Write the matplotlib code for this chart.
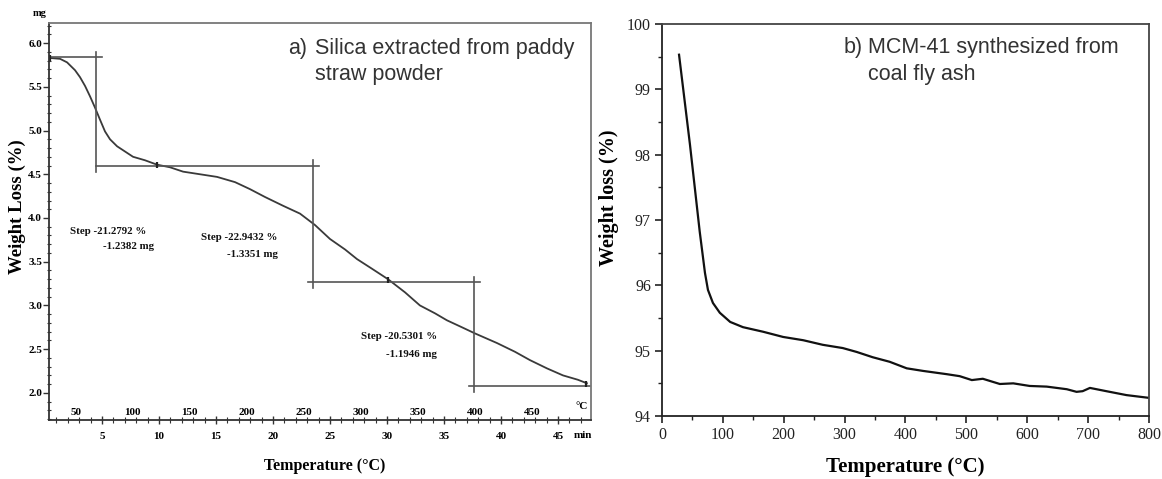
import matplotlib
matplotlib.use("Agg")
import matplotlib.pyplot as plt
from matplotlib.ticker import MultipleLocator, FixedLocator, FormatStrFormatter
import numpy as np

# ---------------- data: panel a (time in min, mass in mg) ----------------
time_a = [0.44, 1.32, 1.93, 2.63, 3.07, 3.51, 3.95, 4.39, 4.82, 5.26, 5.70, 6.32, 7.02,
          7.72, 8.77, 9.82, 10.96, 12.11, 13.60, 15.09, 16.67, 17.98, 19.30, 20.88,
          22.37, 23.68, 25.0, 26.32, 27.37, 28.68, 30.09, 31.58, 32.89, 34.21, 35.26,
          36.58, 37.72, 39.65, 41.23, 42.54, 44.04, 45.44, 46.75, 47.54]
mass_a = [5.83, 5.82, 5.78, 5.69, 5.61, 5.51, 5.39, 5.26, 5.125, 4.99, 4.90, 4.82, 4.76,
          4.70, 4.66, 4.61, 4.58, 4.53, 4.50, 4.47, 4.41, 4.33, 4.24, 4.14,
          4.05, 3.92, 3.76, 3.64, 3.53, 3.42, 3.30, 3.15, 3.00, 2.91, 2.83,
          2.75, 2.68, 2.57, 2.47, 2.375, 2.28, 2.20, 2.15, 2.11]
# step-evaluation construction lines (min, mg)
step_levels = [5.84, 4.60, 3.27, 2.08]
step_times = [4.5, 23.5, 37.6]
step_marks_t = [0.44, 9.8, 30.1, 47.5]
step_marks_m = [5.83, 4.61, 3.29, 2.10]
step_pct = ["Step -21.2792 %", "Step -22.9432 %", "Step -20.5301 %"]
step_mg = ["-1.2382 mg", "-1.3351 mg", "-1.1946 mg"]
temp_ticks_a = [50, 100, 150, 200, 250, 300, 350, 400, 450]

# ---------------- data: panel b (temperature, weight %) ----------------
temp_b = [28, 46, 62, 70.6, 75.5, 83.7, 95, 112, 133, 166, 199, 232, 264, 297, 320,
          346, 374, 402, 429, 468, 489, 509, 527, 555, 577, 604, 632, 665, 681,
          691, 703, 730, 763, 798]
wt_b = [99.53, 98.15, 96.82, 96.19, 95.93, 95.73, 95.58, 95.44, 95.36, 95.29,
        95.21, 95.16, 95.09, 95.04, 94.98, 94.90, 94.83, 94.73, 94.69, 94.64, 94.61,
        94.55, 94.57, 94.49, 94.50, 94.46, 94.45, 94.41, 94.37, 94.38, 94.43, 94.38,
        94.32, 94.28]

serif = "Liberation Serif"
sans = "Liberation Sans"

fig = plt.figure(figsize=(11.62, 4.79), dpi=100)

# ======================= panel a =======================
axa = fig.add_axes([0.0422, 0.1232, 0.4664, 0.8288])
axa.plot(time_a, mass_a, color="#3a3a3a", lw=1.3)
axa.set_xlim(0.35, 47.9)
axa.set_ylim(1.69, 6.23)

gray = "#555555"
axa.plot([0.35, 5.0], [step_levels[0]] * 2, color=gray, lw=1.2)
axa.plot([step_times[0]] * 2, [5.90, 4.53], color=gray, lw=1.2)
axa.plot([4.5, 24.0], [step_levels[1]] * 2, color=gray, lw=1.2)
axa.plot([step_times[1]] * 2, [4.66, 3.20], color=gray, lw=1.2)
axa.plot([23.1, 38.2], [step_levels[2]] * 2, color=gray, lw=1.2)
axa.plot([step_times[2]] * 2, [3.33, 2.01], color=gray, lw=1.2)
axa.plot([37.2, 47.8], [step_levels[3]] * 2, color=gray, lw=1.2)
axa.plot(step_marks_t, step_marks_m, ls="none", marker="|", ms=5, mew=1.6, color="#222222")

txt_kw = dict(fontsize=7.8, fontweight="bold", family=serif, ha="right", va="center", color="#111111")
pct_pos = [(8.9, 3.85), (20.4, 3.78), (34.4, 2.65)]
mg_pos = [(9.6, 3.67), (20.4, 3.58), (34.4, 2.44)]
for s, (x, y) in zip(step_pct, pct_pos):
    axa.text(x, y, s, **txt_kw)
for s, (x, y) in zip(step_mg, mg_pos):
    axa.text(x, y, s, **txt_kw)

for side in ["top", "right"]:
    axa.spines[side].set_color("#777777")
    axa.spines[side].set_linewidth(1.3)
for side in ["left", "bottom"]:
    axa.spines[side].set_color("#333333")
    axa.spines[side].set_linewidth(1.3)

axa.xaxis.set_major_locator(FixedLocator([5, 10, 15, 20, 25, 30, 35, 40, 45]))
axa.xaxis.set_minor_locator(MultipleLocator(1))
axa.yaxis.set_major_locator(FixedLocator([2.0, 2.5, 3.0, 3.5, 4.0, 4.5, 5.0, 5.5, 6.0]))
axa.yaxis.set_minor_locator(MultipleLocator(0.1))
axa.yaxis.set_major_formatter(FormatStrFormatter("%.1f"))
axa.tick_params(axis="x", which="major", direction="inout", length=6, width=1, color="#333333", pad=6)
axa.tick_params(axis="x", which="minor", direction="inout", length=4, width=0.8, color="#333333")
axa.tick_params(axis="y", which="major", direction="out", length=4, width=1, color="#333333", pad=1)
axa.tick_params(axis="y", which="minor", direction="inout", length=3, width=0.8, color="#333333")
for lab in axa.get_xticklabels() + axa.get_yticklabels():
    lab.set_fontfamily(serif)
    lab.set_fontweight("bold")
    lab.set_fontsize(8)

# temperature scale inside the axes (°C), linked to time
sec = axa.secondary_xaxis(0.0, functions=(lambda t: 10 * np.asarray(t) + 23,
                                          lambda T: (np.asarray(T) - 23) / 10))
sec.set_alignment("top")
sec.set_xticks(temp_ticks_a)
sec.tick_params(length=0, pad=2)
sec.spines["top"].set_visible(False)
sec.spines["bottom"].set_visible(False)
for lab in sec.get_xticklabels():
    lab.set_fontfamily(serif)
    lab.set_fontweight("bold")
    lab.set_fontsize(8)
axa.text(0.982, 0.022, "°C", transform=axa.transAxes, fontsize=8, fontweight="bold",
         family=serif, ha="center", va="bottom")
axa.text(0.985, -0.038, "min", transform=axa.transAxes, fontsize=8, fontweight="bold",
         family=serif, ha="center", va="center")
axa.text(-0.017, 1.012, "mg", transform=axa.transAxes, fontsize=7.5, fontweight="bold",
         family=serif, ha="center", va="bottom")

axa.set_xlabel("Temperature (°C)", fontsize=11.5, fontweight="bold", family=serif)
axa.xaxis.set_label_coords(0.509, -0.095)
axa.set_ylabel("Weight Loss (%)", fontsize=13.5, fontweight="bold", family=serif)
axa.yaxis.set_label_coords(-0.043, 0.537)

axa.text(0.441, 0.937, "a)", transform=axa.transAxes, fontsize=15.5, family=sans,
         color="#333333", ha="left", va="center")
axa.text(0.491, 0.937, "Silica extracted from paddy", transform=axa.transAxes, fontsize=15.5,
         family=sans, color="#333333", ha="left", va="center")
axa.text(0.491, 0.869, "straw powder", transform=axa.transAxes, fontsize=15.5,
         family=sans, color="#333333", ha="left", va="center")

# ======================= panel b =======================
axb = fig.add_axes([0.5697, 0.1315, 0.4191, 0.8184])
axb.plot(temp_b, wt_b, color="#111111", lw=1.6)
axb.set_xlim(0, 800)
axb.set_ylim(94, 100)
axb.xaxis.set_major_locator(MultipleLocator(100))
axb.xaxis.set_minor_locator(MultipleLocator(50))
axb.yaxis.set_major_locator(MultipleLocator(1))
axb.yaxis.set_minor_locator(MultipleLocator(0.5))
axb.tick_params(which="major", direction="out", length=5, width=1.2, color="#222222", pad=3)
axb.tick_params(which="minor", direction="out", length=3, width=1.0, color="#222222")
for side in axb.spines:
    axb.spines[side].set_linewidth(1.3)
    axb.spines[side].set_color("#222222")
axb.spines["right"].set_color("#444444")
axb.spines["top"].set_color("#444444")
for lab in axb.get_xticklabels() + axb.get_yticklabels():
    lab.set_fontfamily(serif)
    lab.set_fontsize(11.5)
    lab.set_color("#222222")
axb.set_xlabel("Temperature (°C)", fontsize=15, fontweight="bold", family=serif)
axb.xaxis.set_label_coords(0.5, -0.105)
axb.set_ylabel("Weight loss (%)", fontsize=14.5, fontweight="bold", family=serif)
axb.yaxis.set_label_coords(-0.088, 0.556)

axb.text(0.372, 0.939, "b)", transform=axb.transAxes, fontsize=15.5, family=sans,
         color="#333333", ha="left", va="center")
axb.text(0.423, 0.939, "MCM-41 synthesized from", transform=axb.transAxes, fontsize=15.5,
         family=sans, color="#333333", ha="left", va="center")
axb.text(0.423, 0.870, "coal fly ash", transform=axb.transAxes, fontsize=15.5,
         family=sans, color="#333333", ha="left", va="center")

fig.savefig("out.png", dpi=100)
